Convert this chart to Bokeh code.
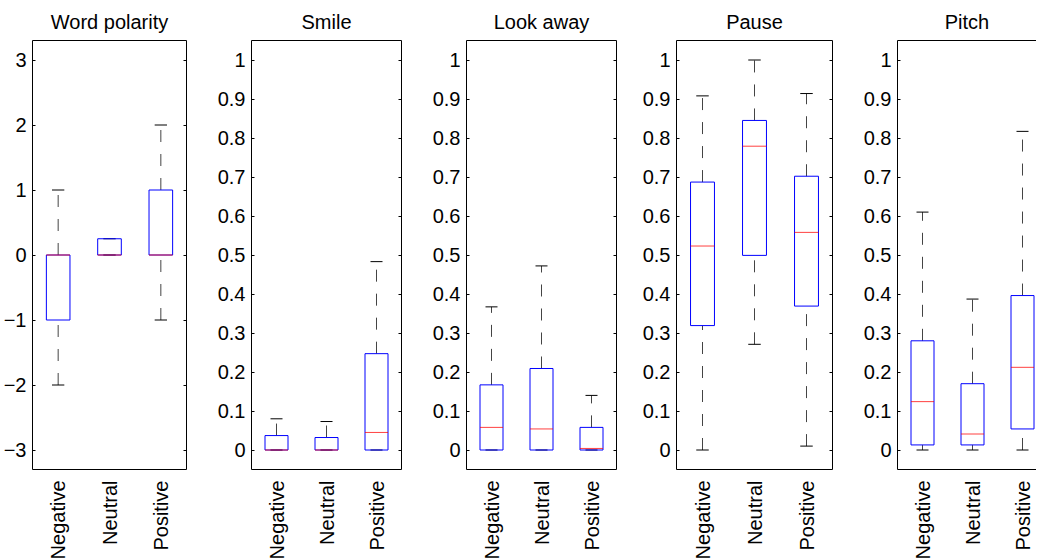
from math import pi
from bokeh.plotting import figure
from bokeh.layouts import row
from bokeh.models import Range1d, FixedTicker, LinearAxis
from bokeh.embed import file_html
from bokeh.resources import INLINE

CATEGORIES = ["Negative", "Neutral", "Positive"]
POSITIONS = [1, 2, 3]

# Word polarity
WORD_LO = [-2, 0, -1]
WORD_Q1 = [-1, 0, 0]
WORD_MED = [0, 0, 0]
WORD_Q3 = [0, 0.25, 1]
WORD_HI = [1, 0.25, 2]

# Smile
SMILE_LO = [0, 0, 0]
SMILE_Q1 = [0, 0, 0]
SMILE_MED = [0, 0, 0.045]
SMILE_Q3 = [0.037, 0.032, 0.247]
SMILE_HI = [0.080, 0.073, 0.483]

# Look away
LOOK_LO = [0, 0, 0]
LOOK_Q1 = [0, 0, 0]
LOOK_MED = [0.058, 0.054, 0.004]
LOOK_Q3 = [0.167, 0.209, 0.058]
LOOK_HI = [0.367, 0.472, 0.140]

# Pause
PAUSE_LO = [0, 0.271, 0.010]
PAUSE_Q1 = [0.319, 0.499, 0.369]
PAUSE_MED = [0.523, 0.779, 0.558]
PAUSE_Q3 = [0.687, 0.845, 0.702]
PAUSE_HI = [0.908, 1.0, 0.914]

# Pitch
PITCH_LO = [0, 0, 0]
PITCH_Q1 = [0.013, 0.013, 0.054]
PITCH_MED = [0.124, 0.041, 0.212]
PITCH_Q3 = [0.280, 0.170, 0.396]
PITCH_HI = [0.610, 0.387, 0.817]

WORD_TICKS = [-3, -2, -1, 0, 1, 2, 3]
WORD_TICK_LABELS = ["\u22123", "\u22122", "\u22121", "0", "1", "2", "3"]
UNIT_TICKS = [0, 0.1, 0.2, 0.3, 0.4, 0.5, 0.6, 0.7, 0.8, 0.9, 1]
UNIT_TICK_LABELS = ["0", "0.1", "0.2", "0.3", "0.4", "0.5", "0.6", "0.7", "0.8", "0.9", "1"]

FONT = "Liberation Sans"
FS = "20px"
BOX_W = 0.46
CAP_W = 0.24


def panel(title, lo, q1, med, q3, hi, ticks, tick_labels, yr, frame_w,
          left, right, x_end=3.5, open_right=False):
    p = figure(frame_width=frame_w, frame_height=429,
               x_range=Range1d(0.5, x_end), y_range=Range1d(*yr),
               output_backend="svg", toolbar_location=None,
               min_border_left=left, min_border_right=right,
               min_border_top=40, min_border_bottom=84, title=title)
    p.title.align = "center"
    p.title.text_font = FONT
    p.title.text_font_size = FS
    p.title.text_font_style = "normal"
    p.title.text_color = "black"
    p.title.standoff = 16
    p.xgrid.visible = False
    p.ygrid.visible = False
    p.background_fill_color = "white"
    p.border_fill_color = "white"
    if open_right:
        p.outline_line_color = None
    else:
        p.outline_line_color = "black"
        p.outline_line_alpha = 1.0
        p.outline_line_width = 1

    label_map = {}
    for t, l in zip(ticks, tick_labels):
        label_map[t] = l

    ya = p.yaxis[0]
    ya.ticker = FixedTicker(ticks=ticks)
    ya.major_label_overrides = label_map
    ya.major_label_text_font = FONT
    ya.major_label_text_font_size = FS
    ya.major_label_text_color = "black"
    ya.major_label_standoff = 6
    ya.major_tick_in = 3
    ya.major_tick_out = 0
    ya.major_tick_line_color = "black"
    ya.minor_tick_line_color = None
    ya.axis_line_color = "black" if open_right else None

    xa = p.xaxis[0]
    xa.ticker = FixedTicker(ticks=POSITIONS)
    xa.major_label_overrides = dict(zip(POSITIONS, CATEGORIES))
    xa.major_label_orientation = pi / 2
    xa.major_label_text_font = FONT
    xa.major_label_text_font_size = FS
    xa.major_label_text_color = "black"
    xa.major_label_standoff = 5
    xa.major_tick_line_color = None
    xa.minor_tick_line_color = None
    xa.axis_line_color = "black" if open_right else None

    if open_right:
        top = LinearAxis(ticker=FixedTicker(ticks=[]), axis_line_color="black",
                         major_tick_line_color=None, minor_tick_line_color=None,
                         major_label_standoff=0)
        p.add_layout(top, "above")
    else:
        blank = {}
        for t in ticks:
            blank[t] = ""
        ra = LinearAxis(ticker=FixedTicker(ticks=ticks), axis_line_color=None,
                        major_tick_in=3, major_tick_out=0,
                        major_tick_line_color="black", minor_tick_line_color=None,
                        major_label_overrides=blank, major_label_standoff=0)
        p.add_layout(ra, "right")

    # whiskers
    p.segment(x0=POSITIONS, y0=q3, x1=POSITIONS, y1=hi, line_color="#444444",
              line_width=1, line_dash="12 12")
    p.segment(x0=POSITIONS, y0=lo, x1=POSITIONS, y1=q1, line_color="#444444",
              line_width=1, line_dash="12 12")
    # caps
    xl = [x - CAP_W / 2 for x in POSITIONS]
    xr = [x + CAP_W / 2 for x in POSITIONS]
    p.segment(x0=xl, y0=hi, x1=xr, y1=hi, line_color="black", line_width=1)
    p.segment(x0=xl, y0=lo, x1=xr, y1=lo, line_color="black", line_width=1)
    # boxes
    p.quad(left=[x - BOX_W / 2 for x in POSITIONS],
           right=[x + BOX_W / 2 for x in POSITIONS],
           bottom=q1, top=q3, fill_color=None, line_color="#0000ff", line_width=1)
    # medians
    p.segment(x0=[x - BOX_W / 2 for x in POSITIONS], y0=med,
              x1=[x + BOX_W / 2 for x in POSITIONS], y1=med,
              line_color="#ff0000", line_width=1, line_alpha=0.75)
    return p


f1 = panel("Word polarity", WORD_LO, WORD_Q1, WORD_MED, WORD_Q3, WORD_HI,
           WORD_TICKS, WORD_TICK_LABELS, (-3.3, 3.3), 154, 32, 25)
f2 = panel("Smile", SMILE_LO, SMILE_Q1, SMILE_MED, SMILE_Q3, SMILE_HI,
           UNIT_TICKS, UNIT_TICK_LABELS, (-0.05, 1.05), 150, 40, 25)
f3 = panel("Look away", LOOK_LO, LOOK_Q1, LOOK_MED, LOOK_Q3, LOOK_HI,
           UNIT_TICKS, UNIT_TICK_LABELS, (-0.05, 1.05), 150, 40, 20)
f4 = panel("Pause", PAUSE_LO, PAUSE_Q1, PAUSE_MED, PAUSE_Q3, PAUSE_HI,
           UNIT_TICKS, UNIT_TICK_LABELS, (-0.05, 1.05), 156, 40, 25)
f5 = panel("Pitch", PITCH_LO, PITCH_Q1, PITCH_MED, PITCH_Q3, PITCH_HI,
           UNIT_TICKS, UNIT_TICK_LABELS, (-0.05, 1.05), 139, 40, 0,
           x_end=0.5 + 139 / 50, open_right=True)

layout = row(f1, f2, f3, f4, f5, spacing=0)
open("out.html", "w").write(file_html(layout, INLINE))
